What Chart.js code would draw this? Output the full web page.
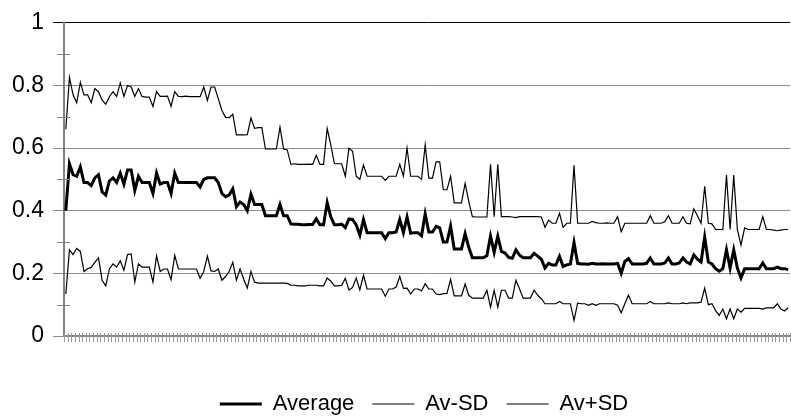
<!DOCTYPE html>
<html><head><meta charset="utf-8">
<script src="https://cdn.jsdelivr.net/npm/chart.js@4"></script>
<style>html,body{margin:0;padding:0;background:#fff;}#wrap{width:791px;height:417px;position:relative;}</style>
</head><body><div id="wrap"><canvas id="c" width="791" height="417"></canvas></div>
<script>
const categories = Array.from({length: 200}, (_, i) => String(i + 1));

const average = [
0.40,0.55,0.515,0.51,0.54,0.49,0.49,0.48,0.505,0.515,
0.46,0.45,0.495,0.505,0.49,0.52,0.485,0.53,0.53,0.465,
0.51,0.49,0.49,0.49,0.455,0.52,0.485,0.49,0.49,0.455,
0.52,0.49,0.49,0.49,0.49,0.49,0.49,0.476,0.50,0.505,
0.505,0.505,0.49,0.455,0.445,0.45,0.47,0.413,0.428,0.42,
0.40,0.453,0.42,0.42,0.42,0.384,0.384,0.384,0.384,0.42,
0.384,0.384,0.358,0.357,0.357,0.355,0.355,0.356,0.356,0.374,
0.355,0.355,0.426,0.38,0.355,0.355,0.357,0.346,0.374,0.372,
0.355,0.322,0.372,0.33,0.33,0.33,0.33,0.33,0.311,0.33,
0.33,0.332,0.372,0.33,0.38,0.328,0.33,0.33,0.32,0.39,
0.332,0.332,0.35,0.345,0.30,0.30,0.351,0.278,0.278,0.278,
0.327,0.283,0.25,0.25,0.25,0.25,0.256,0.319,0.267,0.319,
0.27,0.265,0.251,0.248,0.275,0.258,0.25,0.25,0.25,0.264,
0.255,0.245,0.217,0.232,0.227,0.227,0.254,0.222,0.227,0.23,
0.298,0.232,0.23,0.23,0.229,0.232,0.23,0.23,0.231,0.23,
0.23,0.23,0.232,0.20,0.238,0.247,0.23,0.23,0.23,0.23,
0.232,0.249,0.23,0.23,0.23,0.233,0.249,0.23,0.23,0.233,
0.249,0.236,0.23,0.259,0.245,0.236,0.316,0.236,0.23,0.215,
0.207,0.215,0.275,0.217,0.275,0.217,0.185,0.215,0.215,0.215,
0.215,0.215,0.233,0.215,0.215,0.215,0.22,0.215,0.215,0.212
];

const avMinusSD = [
0.134,0.275,0.26,0.28,0.27,0.206,0.215,0.219,0.235,0.25,
0.178,0.16,0.214,0.23,0.22,0.24,0.21,0.26,0.262,0.172,
0.23,0.22,0.22,0.22,0.172,0.256,0.206,0.214,0.214,0.18,
0.258,0.214,0.214,0.214,0.214,0.214,0.214,0.184,0.206,0.255,
0.208,0.206,0.214,0.178,0.19,0.206,0.235,0.178,0.214,0.181,
0.153,0.206,0.172,0.169,0.169,0.169,0.169,0.169,0.169,0.169,
0.169,0.168,0.162,0.162,0.16,0.16,0.16,0.162,0.162,0.162,
0.16,0.16,0.185,0.175,0.16,0.16,0.162,0.184,0.147,0.155,
0.185,0.147,0.194,0.15,0.15,0.15,0.15,0.15,0.127,0.15,
0.15,0.156,0.19,0.152,0.153,0.134,0.15,0.15,0.144,0.167,
0.15,0.15,0.134,0.132,0.135,0.136,0.181,0.128,0.128,0.128,
0.166,0.13,0.121,0.121,0.121,0.121,0.146,0.092,0.146,0.092,
0.146,0.146,0.121,0.121,0.178,0.15,0.121,0.121,0.121,0.146,
0.13,0.119,0.103,0.103,0.103,0.103,0.11,0.103,0.103,0.103,
0.05,0.105,0.103,0.103,0.098,0.103,0.098,0.103,0.103,0.103,
0.103,0.103,0.098,0.074,0.103,0.131,0.103,0.103,0.103,0.103,
0.103,0.11,0.103,0.103,0.103,0.103,0.106,0.103,0.103,0.103,
0.106,0.103,0.106,0.106,0.106,0.108,0.153,0.10,0.103,0.081,
0.066,0.086,0.055,0.086,0.055,0.086,0.076,0.088,0.088,0.088,
0.088,0.088,0.086,0.09,0.09,0.09,0.103,0.086,0.08,0.09
];

const avPlusSD = [
0.66,0.826,0.77,0.745,0.81,0.77,0.77,0.745,0.79,0.78,
0.753,0.74,0.764,0.78,0.765,0.808,0.765,0.80,0.795,0.765,
0.79,0.765,0.763,0.763,0.733,0.78,0.765,0.765,0.766,0.733,
0.78,0.765,0.764,0.766,0.764,0.764,0.764,0.764,0.795,0.752,
0.795,0.795,0.758,0.72,0.698,0.697,0.708,0.642,0.642,0.642,
0.643,0.696,0.663,0.665,0.665,0.597,0.597,0.597,0.597,0.667,
0.597,0.594,0.548,0.55,0.548,0.548,0.548,0.549,0.548,0.577,
0.548,0.548,0.6625,0.61,0.55,0.55,0.55,0.51,0.60,0.59,
0.51,0.50,0.546,0.51,0.51,0.51,0.51,0.51,0.497,0.51,
0.51,0.51,0.548,0.51,0.60,0.51,0.51,0.51,0.50,0.61,
0.504,0.504,0.556,0.556,0.467,0.467,0.51,0.425,0.425,0.425,
0.487,0.43,0.381,0.38,0.38,0.38,0.38,0.548,0.381,0.548,
0.381,0.381,0.381,0.38,0.378,0.381,0.381,0.381,0.381,0.381,
0.381,0.38,0.347,0.37,0.36,0.36,0.392,0.347,0.36,0.36,
0.545,0.36,0.36,0.36,0.36,0.366,0.362,0.36,0.36,0.361,
0.36,0.36,0.381,0.333,0.36,0.36,0.36,0.36,0.36,0.36,
0.36,0.384,0.36,0.36,0.36,0.365,0.384,0.36,0.36,0.36,
0.381,0.36,0.358,0.406,0.384,0.36,0.478,0.36,0.358,0.34,
0.34,0.34,0.514,0.34,0.514,0.34,0.29,0.345,0.34,0.34,
0.34,0.34,0.381,0.34,0.34,0.338,0.336,0.338,0.34,0.34
];

const yTickLabels = ['0', '0.2', '0.4', '0.6', '0.8', '1'];
const seriesNames = ['Average', 'Av-SD', 'Av+SD'];

const FONT = '"Liberation Sans", Arial, Helvetica, sans-serif';

function gridCol(ctx) {
  if (!ctx.tick) return '#8c8c8c';
  const k = Math.round(ctx.tick.value * 10);
  if (k === 10) return '#000000';
  return k % 2 === 0 ? '#8c8c8c' : 'rgba(0,0,0,0)';
}

const axisExtras = {
  id: 'axisExtras',
  afterLayout(chart) {
    const lg = chart.legend;
    if (lg) { lg.left += 29; lg.right += 29; lg.top += 8; lg.bottom += 8; }
  },
  afterDraw(chart) {
    const ctx = chart.ctx, xs = chart.scales.x, ys = chart.scales.y;
    ctx.save();
    ctx.strokeStyle = '#9a9a9a';
    ctx.lineWidth = 1;
    const step = xs.getPixelForValue(1) - xs.getPixelForValue(0);
    const yb = ys.getPixelForValue(0);
    ctx.beginPath();
    for (let i = 0; i <= categories.length; i++) {
      const px = Math.round(xs.getPixelForValue(i) - step / 2) + 0.5;
      ctx.moveTo(px, yb - 3);
      ctx.lineTo(px, yb + 6);
    }
    ctx.stroke();
    ctx.strokeStyle = '#808080';
    ctx.beginPath();
    for (let k = 1; k < 10; k += 2) {
      const py = Math.round(ys.getPixelForValue(k / 10)) + 0.5;
      ctx.moveTo(xs.left - 7, py);
      ctx.lineTo(xs.left + 6, py);
    }
    ctx.stroke();
    ctx.restore();
  }
};

const common = { borderColor: '#000', backgroundColor: '#000', pointRadius: 0, pointHoverRadius: 0, pointStyle: 'line', tension: 0, fill: false };

new Chart(document.getElementById('c'), {
  type: 'line',
  data: {
    labels: categories,
    datasets: [
      Object.assign({ label: seriesNames[0], data: average, borderWidth: 3 }, common),
      Object.assign({ label: seriesNames[1], data: avMinusSD, borderWidth: 1.2 }, common),
      Object.assign({ label: seriesNames[2], data: avPlusSD, borderWidth: 1.2 }, common)
    ]
  },
  options: {
    responsive: false,
    animation: false,
    layout: { padding: { top: 16, right: 1, left: 0, bottom: 0 } },
    plugins: {
      legend: {
        position: 'bottom',
        labels: { usePointStyle: true, pointStyleWidth: 42, color: '#000', padding: 18, font: { family: FONT, size: 22 } }
      },
      tooltip: { enabled: false }
    },
    scales: {
      x: {
        type: 'category',
        offset: true,
        grid: { display: false },
        border: { display: true, color: '#808080', width: 1.5 },
        ticks: { display: false },
        afterFit(s) { s.height = 31; }
      },
      y: {
        min: 0, max: 1,
        ticks: {
          stepSize: 0.1, autoSkip: false, padding: 9, color: '#000',
          font: { family: FONT, size: 23 },
          callback(v) { const k = Math.round(v * 10); return k % 2 === 0 ? yTickLabels[k / 2] : ''; }
        },
        grid: { color: gridCol, tickColor: gridCol, tickLength: 11, lineWidth: 1 },
        border: { color: '#808080', width: 2 },
        afterFit(s) { s.width = 64; }
      }
    }
  },
  plugins: [axisExtras]
});
</script>
</body></html>
